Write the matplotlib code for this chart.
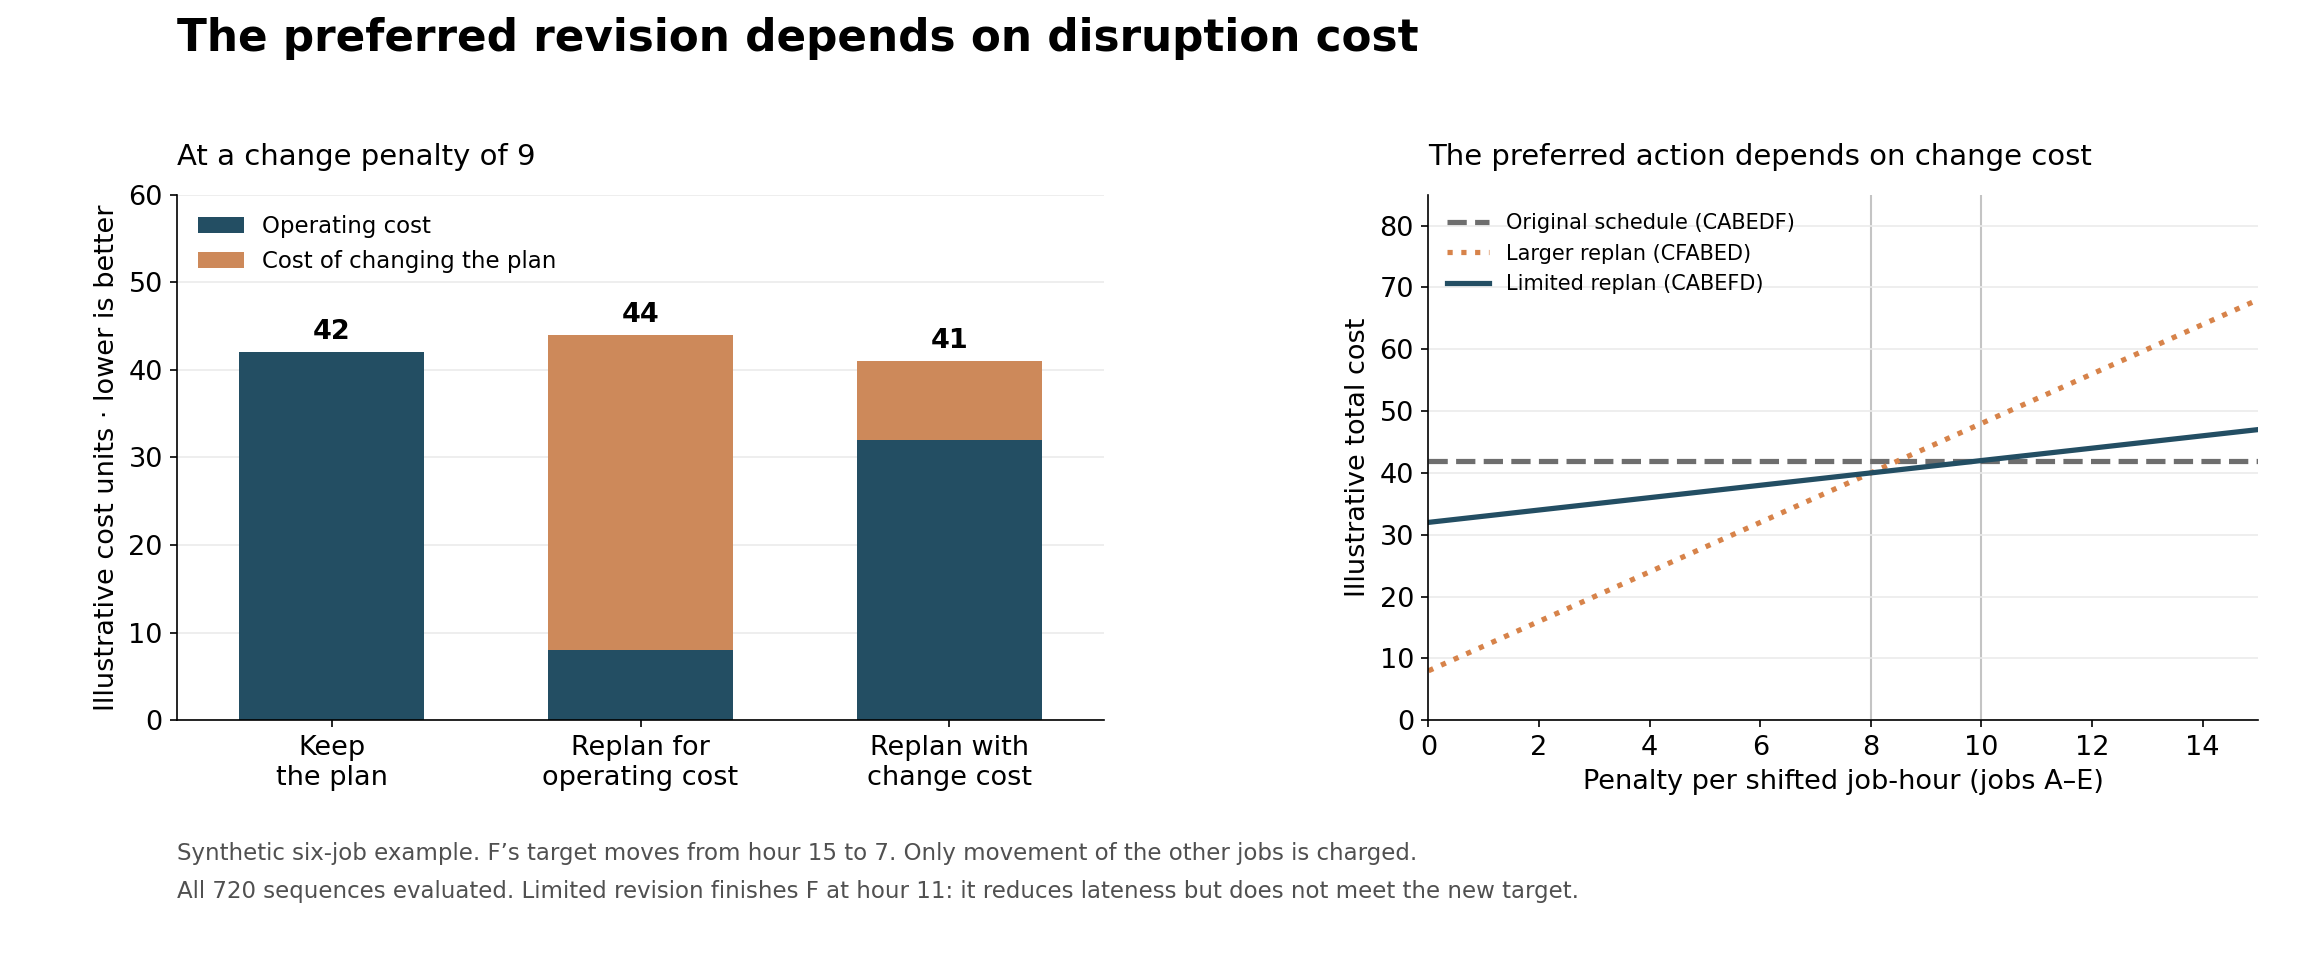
import numpy as np
from matplotlib import pyplot as plt

# bar panel data
options = ['Keep\nthe plan', 'Replan for\noperating cost', 'Replan with\nchange cost']
operating = [42, 8, 32]
change_cost = [0, 36, 9]

# line panel data
penalty = [0, 15]
original = [42, 42]
larger = [8, 68]
limited = [32, 47]
crossings = [8, 10]

DARK = '#234e63'
ORANGE = '#cd895a'
GREY = '#6e6e6e'

fig = plt.figure(figsize=(15.36, 6.36), dpi=150)
ax1 = fig.add_axes([0.077, 0.245, 0.402, 0.551])
ax2 = fig.add_axes([0.620, 0.245, 0.360, 0.551])

x = np.arange(len(options))
ax1.bar(x, operating, width=0.6, color=DARK, label='Operating cost', zorder=2)
ax1.bar(x, change_cost, width=0.6, bottom=operating, color=ORANGE,
        label='Cost of changing the plan', zorder=2)
for i, (a, b) in enumerate(zip(operating, change_cost)):
    ax1.text(i, a + b + 0.8, f'{a + b}', ha='center', va='bottom',
             fontsize=13, fontweight='bold')
ax1.set_xticks(x, options, fontsize=13)
ax1.set_ylim(0, 60)
ax1.set_xlim(-0.5, 2.5)
ax1.set_yticks(range(0, 61, 10))
ax1.tick_params(axis='y', labelsize=13)
ax1.set_ylabel('Illustrative cost units · lower is better', fontsize=13)
ax1.grid(axis='y', color='#ebebeb', lw=0.8, zorder=0)
ax1.legend(loc='upper left', frameon=False, fontsize=11)
ax1.set_title('At a change penalty of 9', loc='left', fontsize=14, pad=14)

for v in crossings:
    ax2.axvline(v, color='#c4c4c4', lw=1, zorder=1)
ax2.plot(penalty, original, '--', color=GREY, lw=2.5, label='Original schedule (CABEDF)')
ax2.plot(penalty, larger, ':', color='#d7834a', lw=2.5, label='Larger replan (CFABED)')
ax2.plot(penalty, limited, '-', color=DARK, lw=2.5, label='Limited replan (CABEFD)')
ax2.set_xlim(0, 15)
ax2.set_ylim(0, 85)
ax2.set_xticks(range(0, 15, 2))
ax2.set_yticks(range(0, 81, 10))
ax2.tick_params(labelsize=13)
ax2.grid(axis='y', color='#ebebeb', lw=0.8, zorder=0)
ax2.set_xlabel('Penalty per shifted job-hour (jobs A–E)', fontsize=13)
ax2.set_ylabel('Illustrative total cost', fontsize=13)
ax2.legend(loc='upper left', frameon=False, fontsize=10)
ax2.set_title('The preferred action depends on change cost', loc='left', fontsize=14, pad=14)

for ax in (ax1, ax2):
    ax.spines['top'].set_visible(False)
    ax.spines['right'].set_visible(False)

fig.text(0.077, 0.96, 'The preferred revision depends on disruption cost',
         fontsize=21, fontweight='bold', va='center')
fig.text(0.077, 0.105, 'Synthetic six-job example. F’s target moves from hour 15 to 7. '
         'Only movement of the other jobs is charged.', fontsize=11, color='#505050', va='center')
fig.text(0.077, 0.065, 'All 720 sequences evaluated. Limited revision finishes F at hour 11: '
         'it reduces lateness but does not meet the new target.', fontsize=11, color='#505050', va='center')

fig.savefig('out.png', dpi=150)
